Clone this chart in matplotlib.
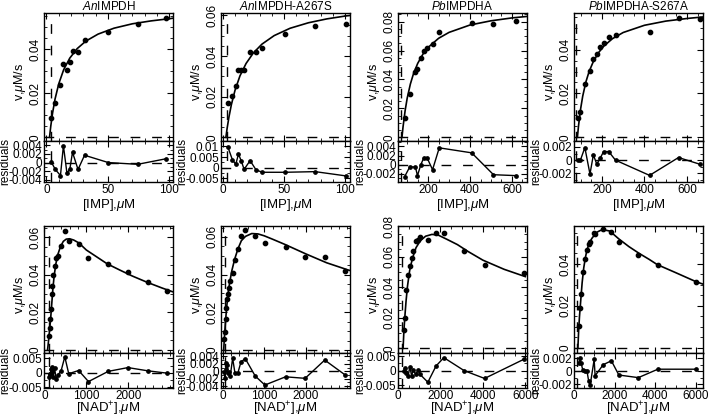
import matplotlib
matplotlib.use("Agg")
import matplotlib.pyplot as plt
from matplotlib.ticker import AutoMinorLocator, FuncFormatter

plt.rcParams.update({
    "font.family": ["Liberation Sans", "DejaVu Sans"],
    "mathtext.fontset": "custom",
    "mathtext.rm": "Liberation Sans",
    "mathtext.it": "Liberation Sans:italic",
    "mathtext.bf": "Liberation Sans:bold",
    "axes.unicode_minus": False,
    "xtick.direction": "in", "ytick.direction": "in",
    "xtick.top": True, "ytick.right": True,
    "xtick.major.size": 4, "ytick.major.size": 4,
    "xtick.minor.size": 2, "ytick.minor.size": 2,
    "xtick.major.width": 0.8, "ytick.major.width": 0.8,
    "xtick.minor.width": 0.6, "ytick.minor.width": 0.6,
    "axes.linewidth": 1.0,
})

# ---------------- data ----------------
titles = ["An|IMPDH", "An|IMPDH-A267S", "Pb|IMPDHA", "Pb|IMPDHA-S267A"]
xlabel_top = "[IMP],$\\mu$M"
xlabel_bot = "[NAD$^{+}$],$\\mu$M"

# Panel 1  AnIMPDH  (IMP)
x1 = [4.0, 7.2, 11.4, 13.8, 16.7, 19.1, 21.2, 25.7, 31.0, 50.4, 74.3, 97.6]
y1 = [0.0086, 0.0155, 0.0238, 0.0333, 0.0306, 0.0342, 0.0394, 0.0386, 0.0442, 0.0480, 0.0514, 0.0544]
r1 = [0.0001, -0.0016, -0.0030, 0.0039, -0.0025, -0.0014, 0.0024, -0.0016, 0.0017, 0.0000, -0.0004, 0.0009]
fx1 = [2.5, 3.5, 5, 7, 10, 14, 19, 25, 32, 42, 55, 70, 85, 100, 102.5]
fy1 = [0, 0.0050, 0.0111, 0.0174, 0.0243, 0.0307, 0.0360, 0.0403, 0.0437, 0.0469, 0.0496, 0.0516, 0.0529, 0.0539, 0.0541]

# Panel 2  AnIMPDH-A267S  (IMP)
x2 = [4.1, 7.9, 10.6, 12.8, 15.0, 17.4, 22.3, 27.2, 32.4, 51.0, 75.5, 100.5]
y2 = [0.0167, 0.0205, 0.0252, 0.0331, 0.0331, 0.0331, 0.0421, 0.0418, 0.0438, 0.0508, 0.0549, 0.0557]
r2 = [0.0098, 0.0036, 0.0016, 0.0064, 0.0033, -0.0008, 0.0033, -0.0011, -0.0022, -0.0022, -0.0019, -0.0039]
fx2 = [2.5, 3.5, 5, 7, 10, 14, 19, 25, 32, 42, 55, 70, 85, 100, 104]
fy2 = [0, 0.0044, 0.0100, 0.0161, 0.0232, 0.0302, 0.0363, 0.0415, 0.0458, 0.0500, 0.0536, 0.0563, 0.0582, 0.0596, 0.0599]

# Panel 3  PbIMPDHA  (IMP)
x3 = [88, 112, 139, 149, 165, 179, 195, 221, 253, 408, 512, 619]
y3 = [0.0131, 0.0297, 0.0454, 0.0473, 0.0546, 0.0599, 0.0620, 0.0646, 0.0726, 0.0789, 0.0782, 0.0805]
r3 = [-0.0026, -0.0005, -0.0005, -0.0024, 0.0000, 0.0015, 0.0015, -0.0011, 0.0037, 0.0026, -0.0022, -0.0024]
fx3 = [75, 80, 90, 100, 115, 130, 150, 175, 200, 250, 300, 400, 500, 600, 670]
fy3 = [0, 0.0071, 0.0184, 0.0271, 0.0368, 0.0440, 0.0511, 0.0575, 0.0622, 0.0685, 0.0726, 0.0777, 0.0806, 0.0826, 0.0836]

# Panel 4  PbIMPDHA-S267A  (IMP)
x4 = [88, 99, 120, 144, 160, 176, 192, 208, 232, 264, 424, 560, 659]
y4 = [0.0087, 0.0117, 0.0242, 0.0304, 0.0356, 0.0379, 0.0414, 0.0432, 0.0459, 0.0467, 0.0482, 0.0543, 0.0540]
r4 = [0.0000, 0.0000, 0.0019, -0.0021, 0.0008, -0.0006, 0.0003, 0.0013, 0.0013, 0.0000, -0.0023, 0.0004, -0.0006]
fx4 = [85, 90, 100, 110, 125, 140, 160, 185, 210, 250, 300, 400, 500, 600, 675]
fy4 = [0, 0.0050, 0.0129, 0.0188, 0.0253, 0.0300, 0.0346, 0.0387, 0.0417, 0.0450, 0.0478, 0.0511, 0.0530, 0.0542, 0.0549]

# Panel 5  AnIMPDH  (NAD+)
x5 = [102, 125, 141, 157, 173, 188, 212, 243, 282, 322, 400, 486, 580, 816, 1051, 1522, 1992, 2463, 2918]
y5 = [0.0075, 0.0118, 0.0165, 0.0219, 0.0296, 0.0340, 0.0398, 0.0447, 0.0489, 0.0498, 0.0556, 0.0635, 0.0579, 0.0565, 0.0491, 0.0458, 0.0416, 0.0360, 0.0314]
r5 = [-0.0013, -0.0005, -0.0003, 0.0012, 0.0021, 0.0005, -0.0013, 0.0015, -0.0022, -0.0008, 0.0008, 0.0055, -0.0003, 0.0008, -0.0030, 0.0005, 0.0018, 0.0007, -0.0001]
fx5 = [75, 90, 110, 130, 150, 175, 200, 230, 270, 320, 380, 450, 520, 600, 700, 820, 1000, 1250, 1500, 1800, 2100, 2450, 2800, 3050]
fy5 = [0, 0.0030, 0.0074, 0.0122, 0.0171, 0.0245, 0.0320, 0.0390, 0.0455, 0.0508, 0.0548, 0.0578, 0.0590, 0.0592, 0.0585, 0.0570, 0.0532, 0.0495, 0.0458, 0.0425, 0.0393, 0.0360, 0.0330, 0.0310]

# Panel 6  AnIMPDH-A267S  (NAD+)
x6 = [40, 56, 72, 88, 104, 128, 152, 184, 240, 296, 368, 440, 544, 784, 1016, 1512, 1984, 2456, 2936]
y6 = [0.0058, 0.0093, 0.0163, 0.0225, 0.0268, 0.0298, 0.0330, 0.0368, 0.0409, 0.0480, 0.0535, 0.0607, 0.0635, 0.0605, 0.0567, 0.0544, 0.0493, 0.0493, 0.0421]
r6 = [-0.0002, -0.0018, 0.0005, 0.0022, 0.0018, -0.0005, -0.0003, -0.0012, 0.0035, -0.0005, -0.0004, 0.0025, 0.0034, -0.0013, -0.0037, -0.0015, -0.0019, 0.0030, -0.0009]
fx6 = [25, 40, 55, 75, 100, 130, 170, 220, 290, 370, 450, 550, 700, 850, 1000, 1200, 1500, 2000, 2500, 3000, 3060]
fy6 = [0, 0.0060, 0.0110, 0.0170, 0.0235, 0.0300, 0.0360, 0.0420, 0.0483, 0.0538, 0.0580, 0.0603, 0.0618, 0.0616, 0.0606, 0.0588, 0.0560, 0.0510, 0.0463, 0.0426, 0.0422]

# Panel 7  PbIMPDHA  (NAD+)
x7 = [272, 320, 400, 480, 560, 640, 720, 832, 960, 1040, 1408, 1792, 2160, 3120, 4080, 5952]
y7 = [0.0123, 0.0197, 0.0383, 0.0478, 0.0540, 0.0595, 0.0641, 0.0705, 0.0711, 0.0730, 0.0712, 0.0758, 0.0758, 0.0641, 0.0546, 0.0493]
r7 = [-0.0002, 0.0009, -0.0008, -0.0018, 0.0014, -0.0018, 0.0003, -0.0013, 0.0003, -0.0013, -0.0040, 0.0016, 0.0045, 0.0000, -0.0027, 0.0040]
fx7 = [240, 280, 330, 380, 450, 550, 680, 850, 1050, 1300, 1600, 1900, 2300, 2800, 3300, 4000, 5000, 6000]
fy7 = [0, 0.0120, 0.0220, 0.0310, 0.0410, 0.0510, 0.0590, 0.0660, 0.0705, 0.0735, 0.0747, 0.0742, 0.0715, 0.0680, 0.0635, 0.0578, 0.0518, 0.0470]

# Panel 8  PbIMPDHA-S267A  (NAD+)
x8 = [240, 288, 352, 432, 528, 640, 720, 800, 992, 1040, 1440, 1840, 2208, 3168, 4128, 6000]
y8 = [0.0106, 0.0192, 0.0258, 0.0362, 0.0425, 0.0465, 0.0494, 0.0504, 0.0546, 0.0542, 0.0565, 0.0554, 0.0507, 0.0441, 0.0397, 0.0315]
r8 = [0.0012, 0.0021, 0.0012, 0.0002, 0.0000, 0.0000, -0.0015, -0.0021, 0.0018, -0.0007, 0.0010, 0.0016, -0.0006, -0.0010, 0.0003, 0.0003]
fx8 = [192, 230, 270, 320, 400, 480, 560, 640, 760, 880, 1000, 1120, 1300, 1500, 1760, 2200, 2700, 3200, 3700, 4100, 5000, 6000, 6350]
fy8 = [0, 0.0085, 0.0150, 0.0212, 0.0310, 0.0382, 0.0430, 0.0468, 0.0501, 0.0522, 0.0537, 0.0551, 0.0560, 0.0562, 0.0557, 0.0520, 0.0483, 0.0451, 0.0422, 0.0397, 0.0359, 0.0316, 0.0304]

# reference (dashed) positions
vdash = [3.5, 3.3, 72, 80, 105, 64, 208, 160]

# axis ranges
xlims = [(-2, 103), (-1.5, 104), (56, 672), (69, 675),
         (-10, 3067), (-40, 3064), (48, 6080), (48, 6350)]
ylims_main = [(-0.0017, 0.0565), (-0.0018, 0.0611), (-0.0026, 0.0860), (-0.0017, 0.0567),
              (-0.0017, 0.0660), (-0.0016, 0.0658), (-0.0031, 0.0802), (-0.0024, 0.0581)]
yticks_main = [[0, 0.02, 0.04], [0, 0.02, 0.04, 0.06], [0, 0.02, 0.04, 0.06, 0.08], [0, 0.02, 0.04],
               [0, 0.02, 0.04, 0.06], [0, 0.02, 0.04, 0.06], [0, 0.02, 0.04, 0.06, 0.08], [0, 0.02, 0.04]]
ylims_res = [(-0.0045, 0.0050), (-0.0068, 0.0126), (-0.0038, 0.0052), (-0.0033, 0.0029),
             (-0.0052, 0.0068), (-0.0045, 0.0049), (-0.0060, 0.0061), (-0.0026, 0.0028)]
yticks_res = [[-0.004, -0.002, 0, 0.002, 0.004], [-0.005, 0, 0.005, 0.01],
              [-0.002, 0, 0.002, 0.004], [-0.002, 0, 0.002],
              [-0.005, 0, 0.005], [-0.004, -0.002, 0, 0.002, 0.004],
              [-0.005, 0, 0.005], [-0.002, 0, 0.002]]
xticks = [[0, 50, 100], [0, 50, 100], [200, 400, 600], [200, 400, 600],
          [0, 1000, 2000], [0, 1000, 2000], [0, 2000, 4000, 6000], [0, 2000, 4000, 6000]]

xs = [x1, x2, x3, x4, x5, x6, x7, x8]
ys = [y1, y2, y3, y4, y5, y6, y7, y8]
rs = [r1, r2, r3, r4, r5, r6, r7, r8]
fxs = [fx1, fx2, fx3, fx4, fx5, fx6, fx7, fx8]
fys = [fy1, fy2, fy3, fy4, fy5, fy6, fy7, fy8]

# ---------------- layout ----------------
FW, FH = 709, 418
fig = plt.figure(figsize=(FW / 100, FH / 100), dpi=100)
lefts = [44, 221, 398, 574]
W = 129
rows = [(13, 141, 182), (226, 353, 388)]
DASH = (0, (7, 8.5))
FS = 8.5


def rect(l, t, w, b):
    return [l / FW, 1 - b / FH, w / FW, (b - t) / FH]


fmt = FuncFormatter(lambda v, p: "%g" % v)

for i in range(8):
    row, col = divmod(i, 4)
    top, sep, bot = rows[row]
    l = lefts[col]
    am = fig.add_axes(rect(l, top, W, sep))
    ar = fig.add_axes(rect(l, sep, W, bot))

    # main
    am.axhline(0, color="k", lw=1.0, ls=DASH, zorder=1)
    am.axvline(vdash[i], color="k", lw=1.0, ls=DASH, zorder=1)
    am.plot(fxs[i], fys[i], color="k", lw=1.2, zorder=3)
    am.plot(xs[i], ys[i], "o", color="k", ms=3.1, zorder=4, clip_on=False)
    am.set_xlim(*xlims[i])
    am.set_ylim(*ylims_main[i])
    am.set_xticks(xticks[i])
    am.set_yticks(yticks_main[i])
    am.yaxis.set_major_formatter(fmt)
    am.xaxis.set_minor_locator(AutoMinorLocator())
    am.yaxis.set_minor_locator(AutoMinorLocator())
    am.tick_params(labelbottom=False, labelsize=FS, pad=1.5)
    for t in am.get_yticklabels():
        t.set_rotation(90)
        t.set_va("center")
    am.set_ylabel("v,$\\mu$M/s", fontsize=9)
    am.yaxis.set_label_coords(-0.125, 0.46)
    if row == 0:
        pre, post = titles[col].split("|")
        am.set_title("$\\mathit{%s}$%s" % (pre, post), fontsize=FS, pad=2.5)

    # residuals
    ar.axhline(0, color="k", lw=1.0, ls=DASH, zorder=1)
    ar.axvline(vdash[i], color="k", lw=1.0, ls=DASH, zorder=1)
    ar.plot(xs[i], rs[i], "-o", color="k", lw=1.0, ms=2.4, zorder=3)
    ar.set_xlim(*xlims[i])
    ar.set_ylim(*ylims_res[i])
    ar.set_xticks(xticks[i])
    ar.set_yticks(yticks_res[i])
    ar.xaxis.set_major_formatter(fmt)
    ar.yaxis.set_major_formatter(fmt)
    ar.xaxis.set_minor_locator(AutoMinorLocator())
    ar.yaxis.set_minor_locator(AutoMinorLocator(2))
    ar.tick_params(labelsize=FS, pad=1.5)
    ar.set_ylabel("residuals", fontsize=FS)
    ar.yaxis.set_label_coords(-0.25, 0.5)
    ar.set_xlabel(xlabel_top if row == 0 else xlabel_bot, fontsize=9.5,
                  labelpad=0.5 if row == 0 else -1.8)

fig.savefig("out.png", dpi=100)
